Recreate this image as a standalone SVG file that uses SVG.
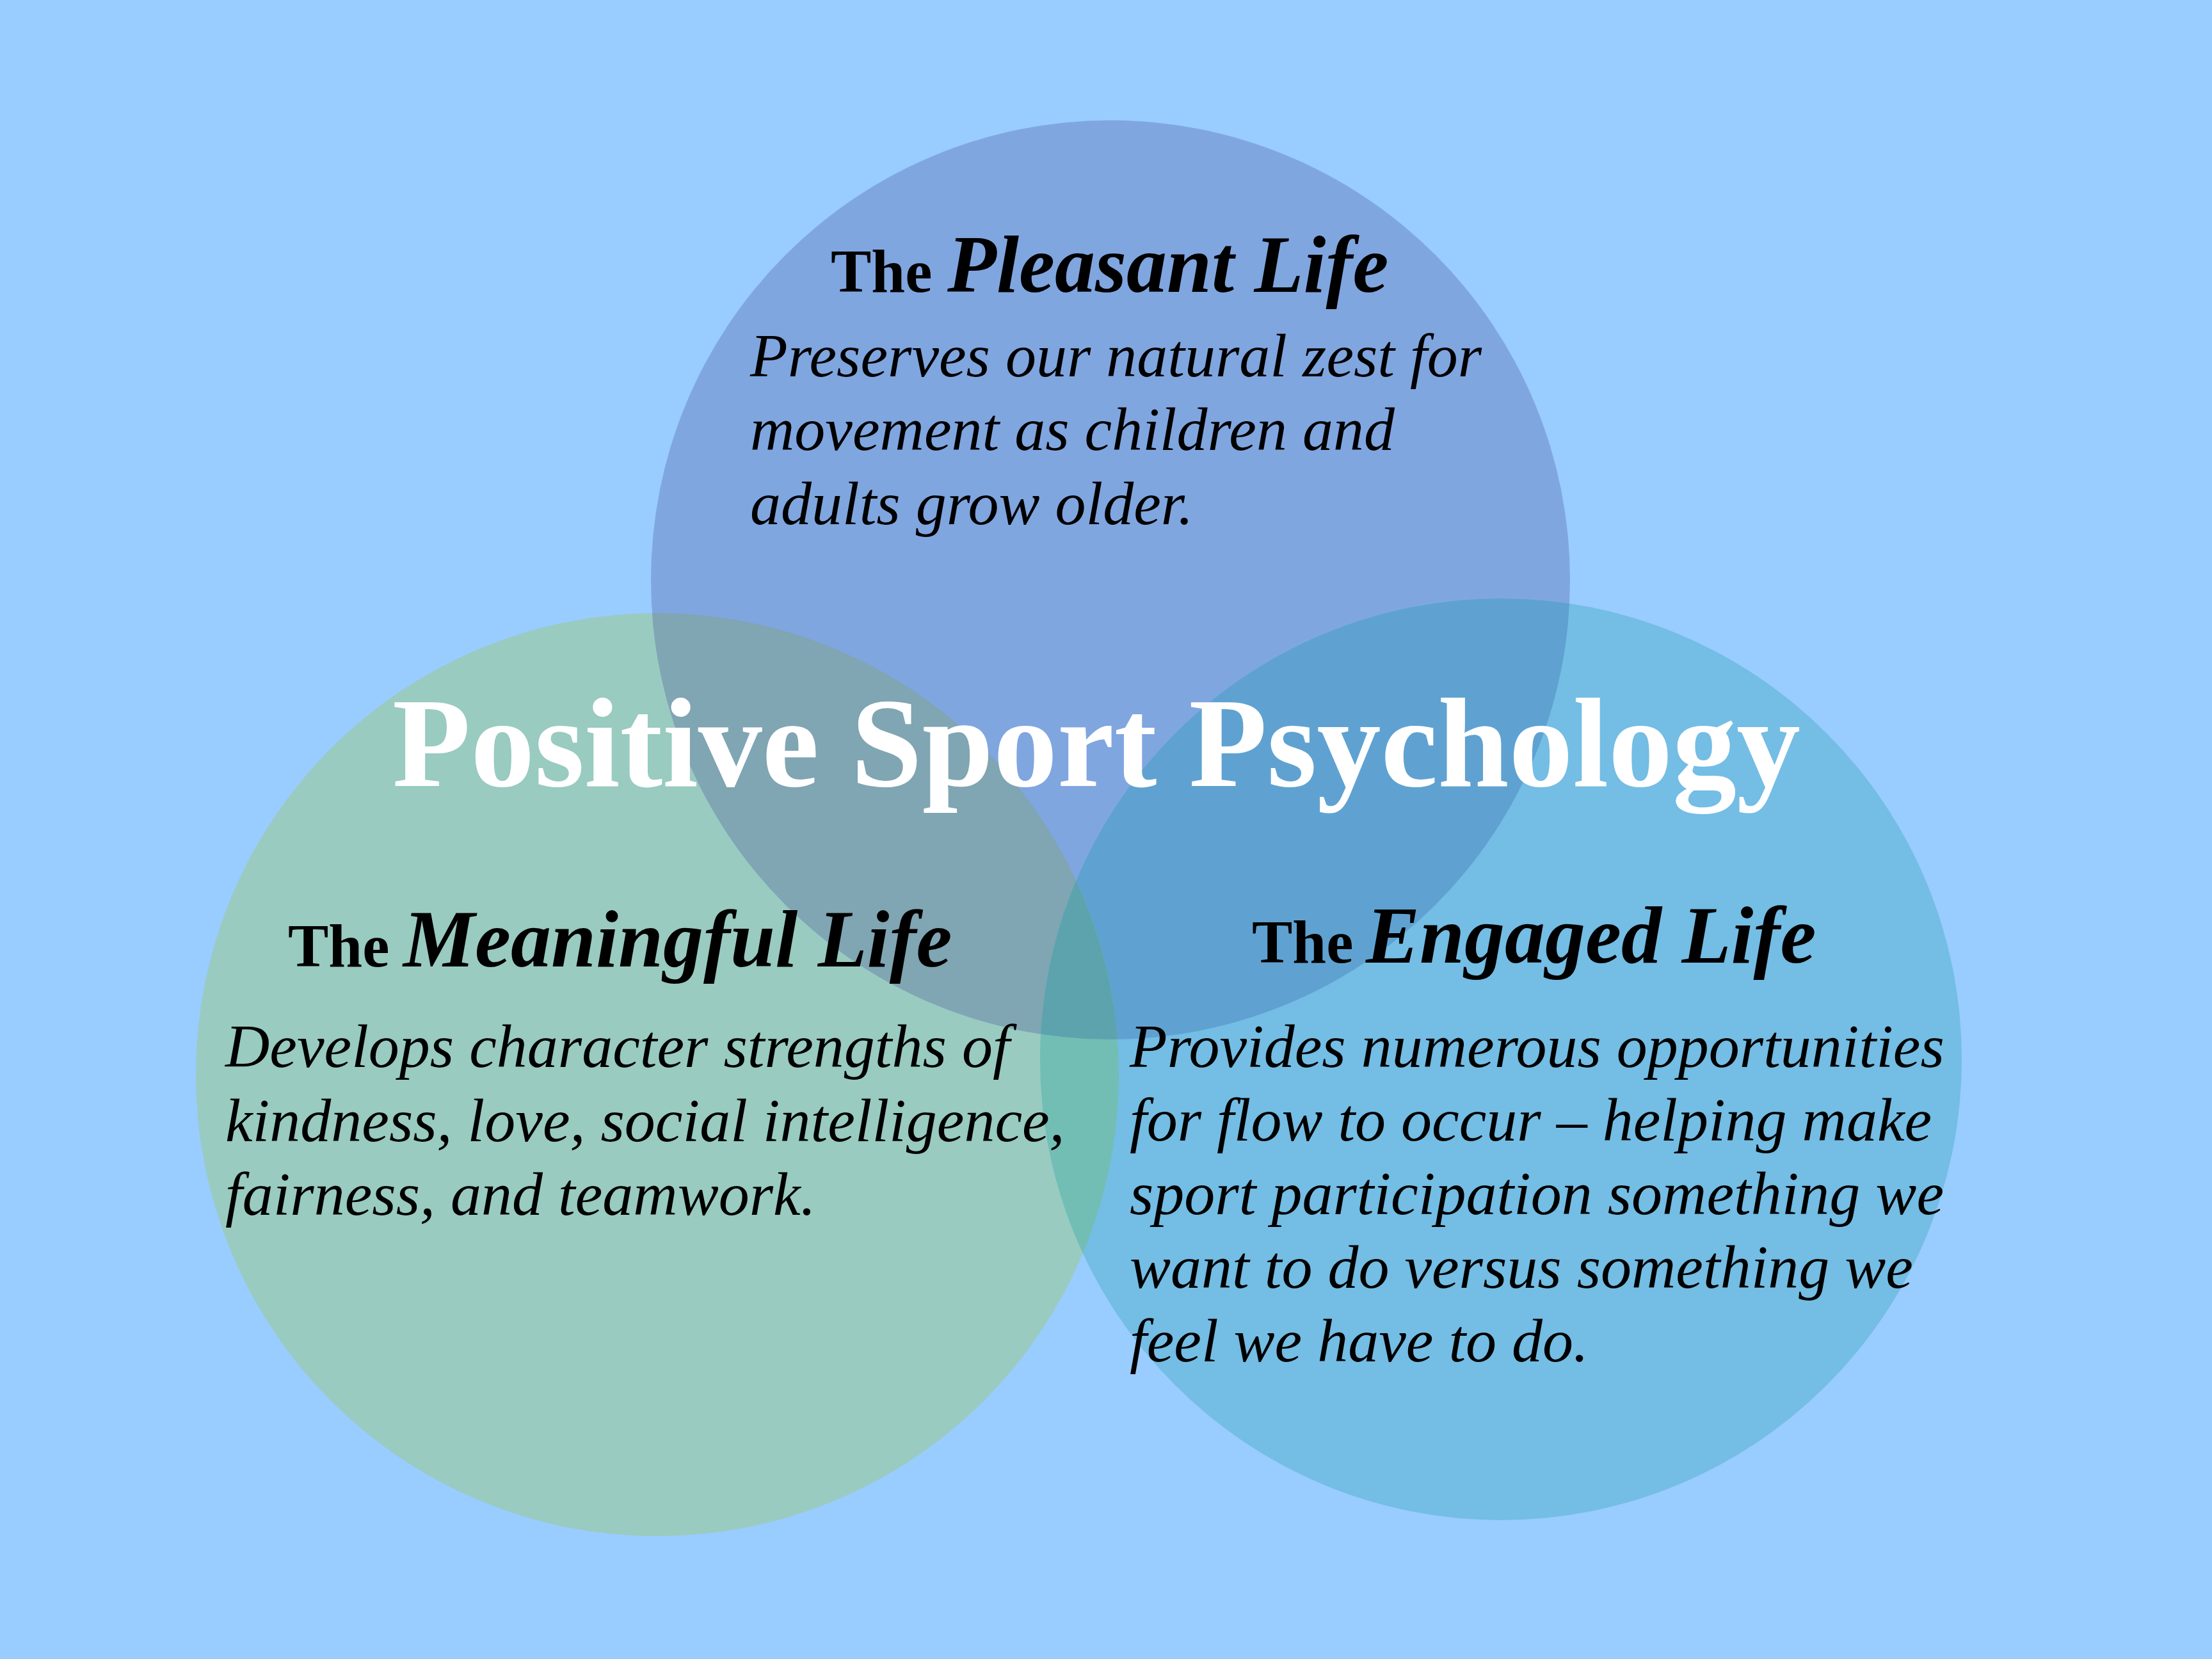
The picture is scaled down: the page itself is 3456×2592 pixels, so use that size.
<svg xmlns="http://www.w3.org/2000/svg" width="3456" height="2592" viewBox="0 0 3456 2592">
<style>
.h{font-family:"Liberation Serif","Times New Roman",serif;fill:#000;font-weight:bold}
.the{font-size:95px}
.hi{font-size:126px;font-style:italic}
.b{font-family:"Liberation Serif","Times New Roman",serif;font-style:italic;font-size:96px;fill:#000}
.title{font-family:"Liberation Serif","Times New Roman",serif;font-weight:bold;font-size:200px;fill:#fff}
</style>
<defs>
<clipPath id="cT"><circle cx="1735" cy="906" r="718"/></clipPath>
<clipPath id="cL"><circle cx="1027" cy="1679" r="721"/></clipPath>
</defs>
<rect width="3456" height="2592" fill="#99CCFF"/>
<g id="circles">
<circle cx="1027" cy="1679" r="721" fill="#99CBC0"/>
<circle cx="1735" cy="906" r="718" fill="#80A6E0"/>
<circle cx="2345" cy="1655" r="720" fill="#74BDE4"/>
<circle cx="1027" cy="1679" r="721" fill="#80A5B3" clip-path="url(#cT)"/>
<circle cx="2345" cy="1655" r="720" fill="#5FA2D1" clip-path="url(#cT)"/>
<circle cx="2345" cy="1655" r="720" fill="#72BEB5" clip-path="url(#cL)"/>
<g clip-path="url(#cT)"><circle cx="2345" cy="1655" r="720" fill="#5CA3AD" clip-path="url(#cL)"/></g>
</g>
<g id="pleasant">
<text class="h" y="456"><tspan class="the" x="1298">The</tspan><tspan class="hi" x="1480">Pleasant Life</tspan></text>
<text class="b" x="1172" y="588">Preserves our natural zest for</text>
<text class="b" x="1172" y="703">movement as children and</text>
<text class="b" x="1172" y="819">adults grow older.</text>
</g>
<g id="meaningful">
<text class="h" y="1510"><tspan class="the" x="450">The</tspan><tspan class="hi" x="630">Meaningful Life</tspan></text>
<text class="b" x="352" y="1667">Develops character strengths of</text>
<text class="b" x="352" y="1783">kindness, love, social intelligence,</text>
<text class="b" x="352" y="1898">fairness, and teamwork.</text>
</g>
<g id="engaged">
<text class="h" y="1504"><tspan class="the" x="1956">The</tspan><tspan class="hi" x="2134">Engaged Life</tspan></text>
<text class="b" x="1765" y="1667">Provides numerous opportunities</text>
<text class="b" x="1765" y="1782">for flow to occur – helping make</text>
<text class="b" x="1765" y="1897">sport participation something we</text>
<text class="b" x="1765" y="2012">want to do versus something we</text>
<text class="b" x="1765" y="2127">feel we have to do.</text>
</g>
<g id="title">
<text class="title" x="1713" y="1228" text-anchor="middle">Positive Sport Psychology</text>
</g>
</svg>
